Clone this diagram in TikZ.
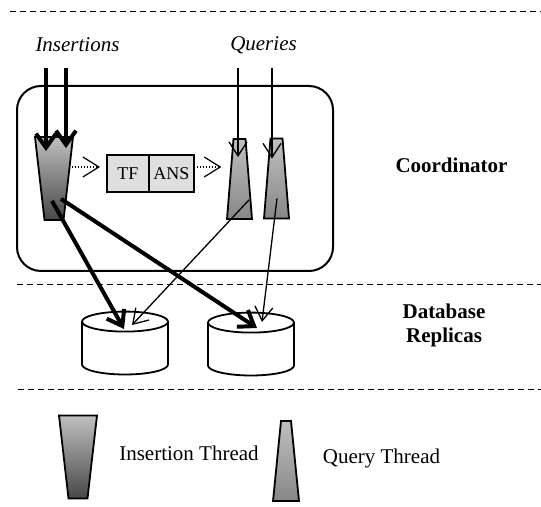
\documentclass[tikz,border=0pt]{standalone}
\usepackage{fontspec}
\setmainfont{Liberation Serif}
\usepackage{xcolor}
\usetikzlibrary{shapes, arrows.meta, positioning}

\begin{document}
\begin{tikzpicture}[x=0.5pt, y=-0.5pt,
    txt/.style={font=\fontsize{10.5}{12}\selectfont},
    btxt/.style={font=\fontsize{10.5}{12}\selectfont\bfseries},
    itxt/.style={font=\fontsize{10.5}{12}\selectfont\itshape},
    sep/.style={dash pattern=on 3pt off 2pt, line width=0.5pt},
    ithread/.style={trapezium, shape border rotate=180, trapezium angle=83.47, inner xsep=4.75pt, inner ysep=20.75pt, draw, line width=0.9pt, top color=black!25, bottom color=black!72},
    qthread/.style={trapezium, trapezium angle=85.35, inner xsep=3pt, inner ysep=20pt, draw, line width=0.9pt, top color=black!25, bottom color=black!47},
    buf/.style={draw, rectangle, fill=gray!25, minimum height=18.5pt, inner sep=0pt, outer sep=0pt, line width=0.75pt, font=\fontsize{9}{11}\selectfont},
    replica/.style={cylinder, shape border rotate=90, aspect=0.2326, draw, fill=white, inner xsep=21.5pt, inner ysep=10.5pt, line width=0.9pt},
    bigflow/.style={line width=2pt, -{Straight Barb[length=7pt, width=10pt]}},
    smallflow/.style={line width=0.65pt, -{Straight Barb[length=7pt, width=9pt]}},
    dotflow/.style={line width=0.6pt, dash pattern=on 0.6pt off 0.9pt, -{Straight Barb[length=8pt, width=10pt]}}]
    \useasboundingbox (0,0) rectangle (541,507);

    % tiers
    \draw[sep] (10,12) -- (541,12);
    \draw[sep] (17,285) -- (541,285);
    \draw[sep] (18,390) -- (541,390);

    \node (coord) [draw, rectangle, rounded corners=12pt, line width=1pt, minimum width=158pt, minimum height=92.5pt] at (175,178.5) {};
    \node (insl) [itxt] at (77.5,45) {Insertions};
    \node (qryl) [itxt] at (263.5,45) {Queries};
    \node (coordl) [btxt] at (451.5,165) {Coordinator};
    \node (dbl) [btxt, align=center] at (444,325) {Database\\Replicas};

    \node (ins) [ithread] at (54,178.5) {};
    \node (qt1) [qthread] at (239.5,179) {};
    \node (qt2) [qthread] at (276.5,178.5) {};
    \node (tf) [buf, minimum width=21pt] at (128,173.5) {TF};
    \node (ans) [buf, minimum width=22.5pt, right=0pt of tf] {ANS};
    \node (db1) [replica] at (125,353.5) {};
    \node (db2) [replica] at (251,354.5) {};

    % incoming requests
    \coordinate (in1) at (46,68);
    \coordinate (in2) at (66,68);
    \coordinate (qin1) at (238,68);
    \coordinate (qin2) at (272,68);
    \draw[bigflow] (in1) -- ([xshift=-4pt,yshift=-7.5pt]ins.north);
    \draw[bigflow] (in2) -- ([xshift=6pt,yshift=-6pt]ins.north);
    \draw[smallflow] (qin1) -- ([xshift=-0.75pt,yshift=-9.5pt]qt1.north);
    \draw[smallflow] (qin2) -- ([xshift=-2.25pt,yshift=-10.5pt]qt2.north);

    \coordinate (d1) at ([yshift=5.75pt]ins.east);
    \draw[dotflow, shorten >=3.5pt] (d1) -- (d1 -| tf.west);
    \coordinate (d2) at ([yshift=3.25pt]ans.east);
    \draw[dotflow, shorten >=4pt] (d2) -- (d2 -| qt1.west);

    % to the replicas
    \draw[bigflow] ([xshift=-1pt,yshift=10pt]ins.south) -- ([xshift=-0.5pt,yshift=12.25pt]db1.center);
    \draw[bigflow] ([xshift=3.5pt,yshift=11pt]ins.south) -- ([xshift=3pt,yshift=13.25pt]db2.center);
    \draw[smallflow] ([xshift=4.75pt,yshift=10pt]qt1.south) -- ([xshift=3.5pt,yshift=14.25pt]db1.center);
    \draw[smallflow] ([xshift=0.25pt,yshift=10.5pt]qt2.south) -- ([xshift=5.5pt,yshift=16.25pt]db2.center);

    % legend
    \node (lins) [ithread] at (78,457) {};
    \node (linsl) [txt] at (189,453) {Insertion Thread};
    \node (lqt) [qthread, inner xsep=2.5pt, trapezium angle=84.29] at (286,461) {};
    \node (lqtl) [txt] at (381.5,458) {Query Thread};
\end{tikzpicture}
\end{document}
